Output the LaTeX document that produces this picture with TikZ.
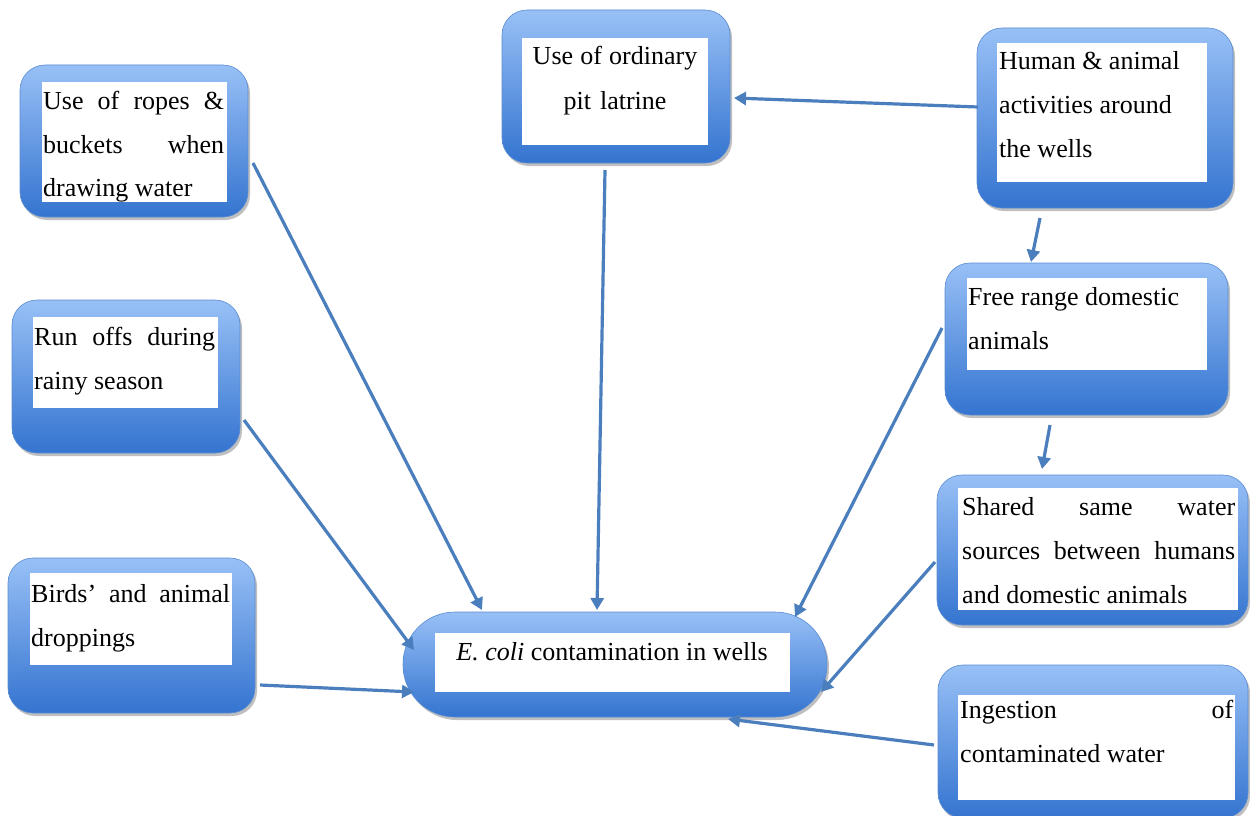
\documentclass[tikz,border=0pt]{standalone}
\usepackage{fontspec}
\setmainfont{Liberation Serif}
\usetikzlibrary{arrows.meta,shadows}
\definecolor{boxtop}{RGB}{152,192,246}
\definecolor{boxbot}{RGB}{52,116,208}
\definecolor{boxline}{RGB}{90,140,210}
\definecolor{arrcol}{RGB}{74,126,189}
\tikzset{
  outerbox/.style={rectangle, rounded corners=25pt, draw=boxline, line width=0.6pt,
    top color=boxtop, bottom color=boxbot, inner sep=0pt,
    drop shadow={shadow xshift=2pt, shadow yshift=-3pt, opacity=0.25, fill=black}},
  innerbox/.style={rectangle, fill=white, draw=none, inner sep=0pt},
  txt/.style={inner sep=0pt, anchor=base west, align=left,
    font=\fontsize{26}{44}\selectfont},
  arr/.style={draw=arrcol, line width=3.2pt,
    -{Triangle[length=12pt,width=13pt]}}
}
\newcommand{\jline}[2]{\makebox[#1][l]{#2}}
\newcommand{\ns}{\spaceskip=0pt\xspaceskip=0pt\relax}
\begin{document}
\begin{tikzpicture}[x=1pt,y=-1pt]
\useasboundingbox (0,0) rectangle (1250,816);
% --- boxes ---
\node[outerbox, minimum width=228pt, minimum height=152pt] (ropes) at (134,141) {};
\node[innerbox, minimum width=185pt, minimum height=120pt] (ropesIn) at (134.5,142) {};
\begin{scope}
\clip (ropesIn.south west) rectangle (ropesIn.north east);
\node[txt, text width=181pt] (ropesT) at (43,109)
  {\ns\jline{181pt}{Use\hfill of\hfill ropes\hfill \&}\\ \jline{181pt}{buckets\hfill when}\\ drawing water};
\end{scope}

\node[outerbox, minimum width=228pt, minimum height=153pt] (runoff) at (126,376.5) {};
\node[innerbox, minimum width=185pt, minimum height=91pt] (runoffIn) at (125.5,362.5) {};
\node[txt, text width=181pt] (runoffT) at (34,345)
  {\ns\jline{181pt}{Run\hfill offs\hfill during}\\ rainy season};

\node[outerbox, minimum width=247pt, minimum height=155pt] (birds) at (131.5,635.5) {};
\node[innerbox, minimum width=202pt, minimum height=92pt] (birdsIn) at (131,619) {};
\node[txt, text width=199pt] (birdsT) at (31,602)
  {\ns\jline{199pt}{Birds’\hfill and\hfill animal}\\ droppings};

\node[outerbox, minimum width=228pt, minimum height=153pt] (pit) at (616,86.5) {};
\node[innerbox, minimum width=186pt, minimum height=107pt] (pitIn) at (615,91.5) {};
\node[txt, anchor=base, align=center, text width=186pt] (pitT) at (615,65)
  {\ns Use of ordinary\\ \ns pit latrine};

\node[outerbox, minimum width=256pt, minimum height=180pt] (human) at (1105,118) {};
\node[innerbox, minimum width=210pt, minimum height=139pt] (humanIn) at (1102,112.5) {};
\node[txt, text width=205pt] (humanT) at (999,70)
  {\ns Human \& animal\\ activities around\\ the wells};

\node[outerbox, minimum width=283pt, minimum height=152pt] (free) at (1086.5,339) {};
\node[innerbox, minimum width=240pt, minimum height=92pt] (freeIn) at (1087,324) {};
\node[txt, text width=235pt] (freeT) at (968,305)
  {\ns Free range domestic\\ animals};

\node[outerbox, minimum width=311pt, minimum height=150pt] (shared) at (1092.5,550) {};
\node[innerbox, minimum width=280pt, minimum height=122pt] (sharedIn) at (1098,549) {};
\node[txt, text width=273pt] (sharedT) at (962,515)
  {\ns\jline{273pt}{Shared\hfill same\hfill water}\\ \jline{273pt}{sources\hfill between\hfill humans}\\ and domestic animals};

\node[outerbox, minimum width=310pt, minimum height=153pt] (ingest) at (1093,741.5) {};
\node[innerbox, minimum width=277pt, minimum height=105pt] (ingestIn) at (1096.5,747.5) {};
\node[txt, text width=273pt] (ingestT) at (960,718)
  {\ns\jline{273pt}{Ingestion\hfill of}\\ contaminated water};

\node[outerbox, rounded corners=52pt, minimum width=424pt, minimum height=105pt] (ecoli) at (615,664.5) {};
\node[innerbox, minimum width=355pt, minimum height=59pt] (ecoliIn) at (612.5,662.5) {};
\node[txt, anchor=base, align=center] (ecoliT) at (612,660) {\ns\textit{E. coli} contamination in wells};

% --- connector end points ---
\coordinate (ropes-o) at (253,163);   \coordinate (ecoli-a) at (482,610);
\coordinate (runoff-o) at (244,420);  \coordinate (ecoli-b) at (414,650);
\coordinate (birds-o) at (260,685);   \coordinate (ecoli-c) at (414,692);
\coordinate (pit-o) at (605,170);     \coordinate (ecoli-d) at (597,610);
\coordinate (human-o1) at (978,107);  \coordinate (pit-i) at (734,98);
\coordinate (human-o2) at (1040,218); \coordinate (free-i) at (1031,262);
\coordinate (free-o1) at (942,328);   \coordinate (ecoli-e) at (795,617);
\coordinate (free-o2) at (1050,425);  \coordinate (shared-i) at (1042,469);
\coordinate (shared-o) at (935,562);  \coordinate (ecoli-f) at (821,692);
\coordinate (ingest-o) at (934,745);  \coordinate (ecoli-g) at (728,719);

% --- connectors ---
\draw[arr] (ropes-o) -- (ecoli-a);
\draw[arr] (runoff-o) -- (ecoli-b);
\draw[arr] (birds-o) -- (ecoli-c);
\draw[arr] (pit-o) -- (ecoli-d);
\draw[arr] (human-o1) -- (pit-i);
\draw[arr] (human-o2) -- (free-i);
\draw[arr] (free-o1) -- (ecoli-e);
\draw[arr] (free-o2) -- (shared-i);
\draw[arr] (shared-o) -- (ecoli-f);
\draw[arr] (ingest-o) -- (ecoli-g);
\end{tikzpicture}
\end{document}
